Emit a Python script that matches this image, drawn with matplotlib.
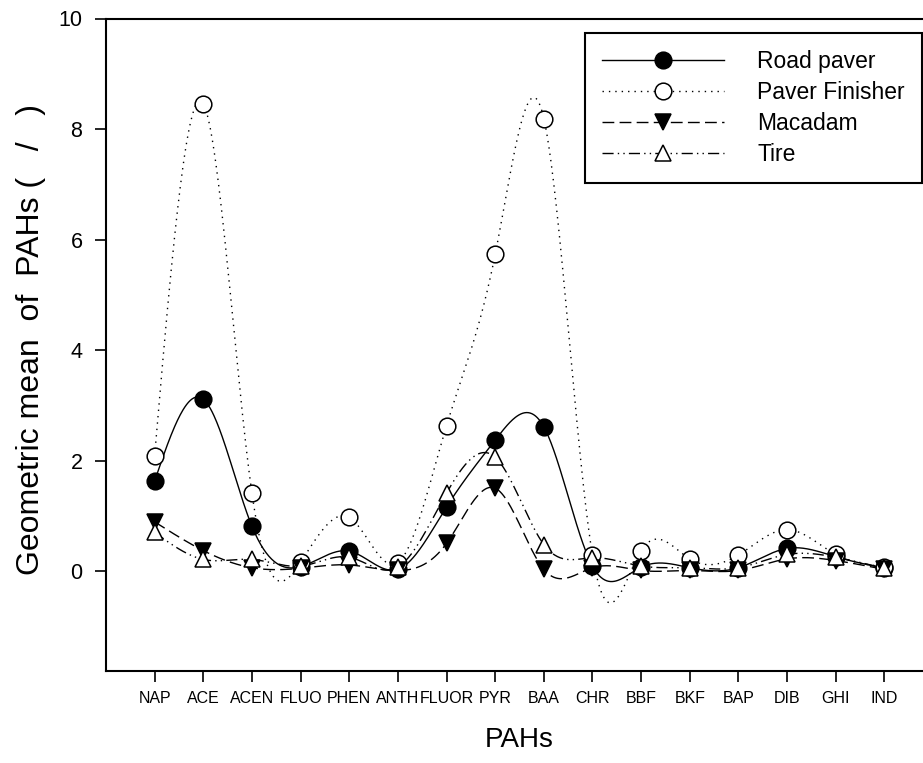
import numpy as np
import matplotlib
matplotlib.use("Agg")
import matplotlib.pyplot as plt
from matplotlib.lines import Line2D

categories = ['NAP', 'ACE', 'ACEN', 'FLUO', 'PHEN', 'ANTH', 'FLUOR', 'PYR',
              'BAA', 'CHR', 'BBF', 'BKF', 'BAP', 'DIB', 'GHI', 'IND']
road_paver = [1.63, 3.11, 0.81, 0.08, 0.36, 0.03, 1.16, 2.37,
              2.61, 0.09, 0.07, 0.06, 0.06, 0.41, 0.26, 0.05]
paver_finisher = [2.09, 8.46, 1.41, 0.16, 0.97, 0.15, 2.63, 5.73,
                  8.19, 0.29, 0.37, 0.22, 0.29, 0.75, 0.30, 0.08]
macadam = [0.89, 0.37, 0.06, 0.05, 0.11, 0.01, 0.50, 1.50,
           0.03, 0.06, 0.01, 0.01, 0.01, 0.22, 0.19, 0.03]
tire = [0.70, 0.21, 0.21, 0.09, 0.25, 0.07, 1.41, 2.06,
        0.48, 0.24, 0.09, 0.06, 0.06, 0.30, 0.25, 0.05]
series_names = ['Road paver', 'Paver Finisher', 'Macadam', 'Tire']

plt.rcParams['font.family'] = ['Liberation Sans', 'DejaVu Sans']


def natural_spline(x, y, xs):
    x = np.asarray(x, float)
    y = np.asarray(y, float)
    n = len(x)
    h = np.diff(x)
    A = np.zeros((n, n))
    b = np.zeros(n)
    A[0, 0] = 1.0
    A[-1, -1] = 1.0
    for i in range(1, n - 1):
        A[i, i - 1] = h[i - 1]
        A[i, i] = 2 * (h[i - 1] + h[i])
        A[i, i + 1] = h[i]
        b[i] = 6 * ((y[i + 1] - y[i]) / h[i] - (y[i] - y[i - 1]) / h[i - 1])
    M = np.linalg.solve(A, b)
    idx = np.clip(np.searchsorted(x, xs) - 1, 0, n - 2)
    x0, x1 = x[idx], x[idx + 1]
    hh = x1 - x0
    t0 = x1 - xs
    t1 = xs - x0
    return (M[idx] * t0 ** 3 / (6 * hh) + M[idx + 1] * t1 ** 3 / (6 * hh)
            + (y[idx] / hh - M[idx] * hh / 6) * t0
            + (y[idx + 1] / hh - M[idx + 1] * hh / 6) * t1)


W, H = 923, 763
fig = plt.figure(figsize=(W / 100, H / 100), dpi=100)
left, right, top, bottom = 106, 933, 18.5, 670.5
ax = fig.add_axes([left / W, 1 - bottom / H, (right - left) / W, (bottom - top) / H])

xpos = np.arange(1, len(categories) + 1)
xs = np.linspace(xpos[0], xpos[-1], 800)

styles = [
    dict(ls='-', marker='o', mfc='black'),
    dict(ls=(0, (1, 3.6)), marker='o', mfc='white'),
    dict(ls=(0, (8.5, 3.8)), marker='v', mfc='black'),
    dict(ls=(0, (8, 3, 1, 3, 1, 3)), marker='^', mfc='white'),
]
data = [road_paver, paver_finisher, macadam, tire]
handles = []
for vals, st, name in zip(data, styles, series_names):
    ys = natural_spline(xpos, vals, xs)
    ax.plot(xs, ys, color='black', lw=1.0, ls=st['ls'], clip_on=False)
    ax.plot(xpos, vals, ls='none', marker=st['marker'], ms=12, mfc=st['mfc'],
            mec='black', mew=1.1, clip_on=False, zorder=3)
    handles.append(Line2D([], [], color='black', lw=1.0, ls=st['ls'],
                          marker=st['marker'], ms=12, mfc=st['mfc'],
                          mec='black', mew=1.1))

ax.set_xlim(0, 17)
ax.set_ylim(-1.8, 10)
ax.set_xticks(xpos)
ax.set_xticklabels(categories, fontsize=11.5)
ax.set_yticks([0, 2, 4, 6, 8, 10])
ax.tick_params(axis='y', labelsize=15.5, length=8, width=1.2, direction='out', pad=9)
ax.tick_params(axis='x', length=8, width=1.2, direction='out', pad=7)
for s in ax.spines.values():
    s.set_linewidth(1.5)

ax.set_xlabel('PAHs', fontsize=20)
ax.xaxis.set_label_coords(0.5, -0.086)
ax.set_ylabel('Geometric mean  of  PAHs (   /   )', fontsize=23)
ax.yaxis.set_label_coords(-0.072, 0.507)

leg = ax.legend(handles, series_names, loc='upper right',
                bbox_to_anchor=(922 / W, 1 - 33 / H), bbox_transform=fig.transFigure,
                borderaxespad=0, fontsize=16.5, numpoints=1, handlelength=5.33,
                handletextpad=1.45, labelspacing=0.34, borderpad=0.75,
                fancybox=False, frameon=True, framealpha=1)
leg.get_frame().set_edgecolor('black')
leg.get_frame().set_linewidth(1.5)

fig.savefig('out.png', dpi=100)
